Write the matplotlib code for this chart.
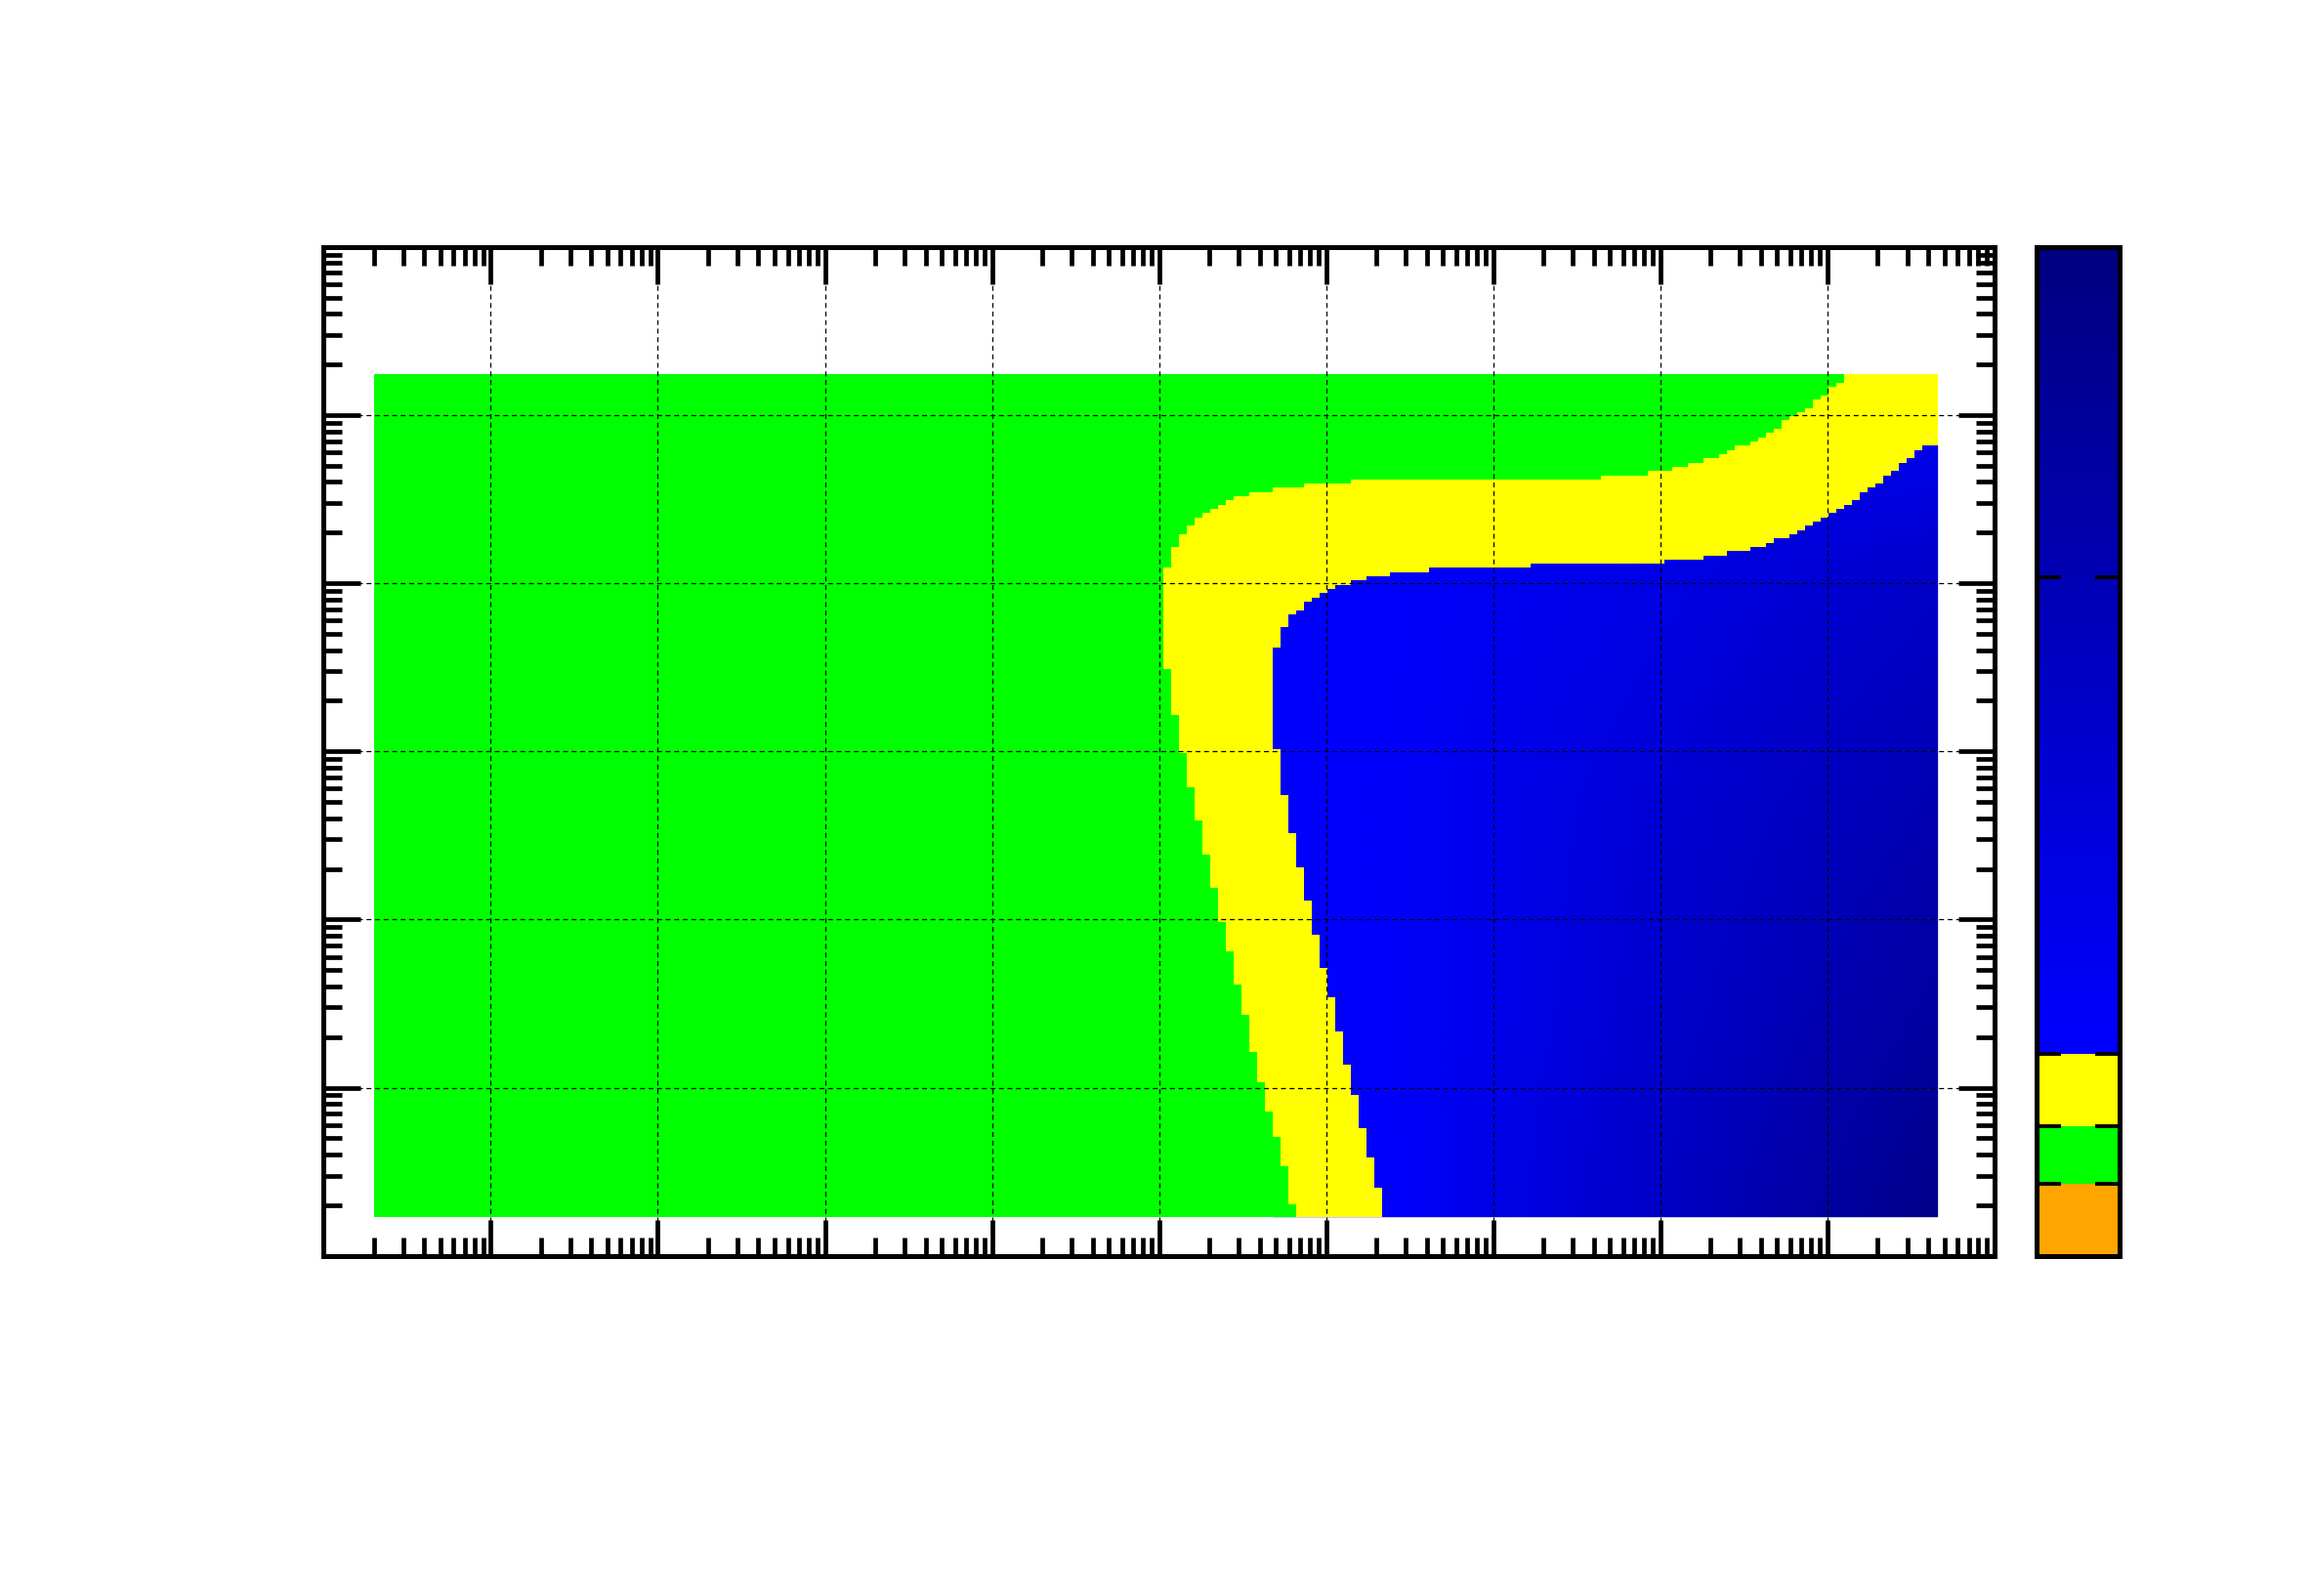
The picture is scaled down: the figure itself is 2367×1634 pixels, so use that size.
import numpy as np
import matplotlib
matplotlib.use("Agg")
import matplotlib.pyplot as plt
from matplotlib.colors import ListedColormap
from matplotlib.ticker import LogLocator, NullFormatter

# ---------------- data (2D histogram, 200 x 200 log bins) ----------------
nx, ny = 200, 200
x_min, x_max = 2.0, 4.56e9
y_min, y_max = 1.707, 1.75e5

# green / yellow boundary: for runs of rows (starting row index),
# number of green bins counted from the left
gy_row_start = [0, 3, 12, 19, 25, 32, 39, 48, 55, 63, 70, 78, 86, 94, 102, 110,
                119, 130, 154, 159, 162, 164, 166, 167, 168, 169, 170, 171, 172,
                173, 174, 175, 176, 177, 178, 179, 180, 181, 182, 183, 184, 185,
                186, 187, 189, 190, 191, 192, 194, 195, 197, 198]
gy_green_bins = [118, 117, 116, 115, 114, 113, 112, 111, 110, 109, 108, 107, 106,
                 105, 104, 103, 102, 101, 102, 103, 104, 105, 106, 107, 108, 109,
                 110, 112, 115, 119, 125, 157, 163, 166, 168, 170, 172, 173, 174,
                 176, 177, 178, 179, 180, 181, 182, 183, 184, 185, 186, 187, 188]

# yellow / blue boundary: first blue bin for runs of rows
yb_row_start = [0, 7, 14, 21, 29, 36, 44, 52, 59, 67, 75, 83, 91, 100, 111, 135,
                140, 143, 144, 146, 147, 148, 149, 150, 151, 152, 153, 154, 155,
                156, 157, 158, 159, 160, 161, 162, 163, 164, 165, 166, 167, 168,
                169, 170, 172, 173, 174, 176, 177, 179, 180, 182, 183]
yb_blue_from = [129, 128, 127, 126, 125, 124, 123, 122, 121, 120, 119, 118, 117,
                116, 115, 116, 117, 118, 119, 120, 121, 122, 123, 125, 127, 130,
                135, 148, 165, 170, 173, 176, 178, 179, 181, 182, 183, 184, 185,
                186, 187, 188, 189, 190, 191, 192, 193, 194, 195, 196, 197, 198, 200]

# colour-axis levels (fractions of the palette)
lvl_orange_top = 0.0716
lvl_green_top = 0.1288
lvl_yellow_top = 0.2004
z_green = 0.100
z_yellow = 0.165

# blue-region values read at a coarse set of bin edges
blue_k = [115, 130, 145, 160, 180, 200]
blue_j = [0, 50, 100, 150, 183]
blue_z = [
    [0.205, 0.205, 0.370, 0.515, 0.736, 0.937],
    [0.205, 0.230, 0.340, 0.471, 0.641, 0.799],
    [0.205, 0.240, 0.330, 0.433, 0.559, 0.685],
    [0.205, 0.210, 0.280, 0.345, 0.452, 0.547],
    [0.205, 0.205, 0.210, 0.250, 0.300, 0.330],
]

cbar_ticks = [0.0716, 0.1288, 0.2004, 0.6728]

# ---------------- palette ----------------
N = 1024
f = (np.arange(N) + 0.5) / N
cols = np.zeros((N, 4))
cols[:, 3] = 1.0
for i, v in enumerate(f):
    if v < lvl_orange_top:
        cols[i, :3] = (1.0, 165 / 255, 0.0)
    elif v < lvl_green_top:
        cols[i, :3] = (0.0, 1.0, 0.0)
    elif v < lvl_yellow_top:
        cols[i, :3] = (1.0, 1.0, 0.0)
    else:
        b = 255 - 127 * (v - lvl_yellow_top) / (1 - lvl_yellow_top)
        cols[i, :3] = (0.0, 0.0, b / 255)
cmap = ListedColormap(cols)
cmap.set_bad((0, 0, 0, 0))

# ---------------- histogram content ----------------
x_edges = np.logspace(np.log10(x_min), np.log10(x_max), nx + 1)
y_edges = np.logspace(np.log10(y_min), np.log10(y_max), ny + 1)
cat = np.full((ny, nx), np.nan)
for j in range(ny):
    i1 = np.searchsorted(gy_row_start, j, side="right") - 1
    i2 = np.searchsorted(yb_row_start, j, side="right") - 1
    g = gy_green_bins[i1]
    b = yb_blue_from[i2]
    cat[j, :g] = z_green
    cat[j, g:b] = z_yellow
cat = np.ma.masked_invalid(cat)

# ---------------- figure ----------------
W, H = 2367, 1634
fig = plt.figure(figsize=(W / 100, H / 100), dpi=100)
fig.patch.set_facecolor("white")

ax = fig.add_axes([331.3 / W, 1 - 1285.7 / H, (2042 - 331.3) / W, (1285.7 - 252.7) / H])
ax.set_xscale("log")
ax.set_yscale("log")

BX, BY = np.meshgrid(x_edges[blue_k], y_edges[blue_j])
ax.pcolormesh(BX, BY, np.array(blue_z), shading="gouraud", cmap=cmap,
              vmin=0, vmax=1, zorder=1, antialiased=False)
ax.pcolormesh(x_edges, y_edges, cat, cmap=cmap, vmin=0, vmax=1,
              antialiased=False, linewidth=0, zorder=1.1)

ax.set_xlim(1, 1e10)
ax.set_ylim(1, 1e6)

for axis in (ax.xaxis, ax.yaxis):
    axis.set_major_locator(LogLocator(base=10, numticks=30))
    axis.set_minor_locator(LogLocator(base=10, subs=np.arange(2, 10), numticks=300))
    axis.set_major_formatter(NullFormatter())
    axis.set_minor_formatter(NullFormatter())

ax.tick_params(which="both", direction="in", top=True, right=True,
               bottom=True, left=True, labelbottom=False, labelleft=False,
               color="black")
ax.tick_params(which="major", length=27, width=3.4)
ax.tick_params(which="minor", length=13.5, width=3.4)

ax.set_axisbelow(False)
ax.grid(True, which="major", color="black", linestyle=(0, (4, 3)), linewidth=0.9)
ax.grid(False, which="minor")

for sp in ax.spines.values():
    sp.set_linewidth(3.6)
    sp.set_zorder(5)

# ---------------- colour bar ----------------
cax = fig.add_axes([2084.5 / W, 1 - 1285.7 / H, (2170 - 2084.5) / W, (1285.7 - 252.7) / H])
cy = np.linspace(0, 1, N + 1)
cax.pcolormesh([0, 1], cy, f.reshape(-1, 1), cmap=cmap, vmin=0, vmax=1,
               antialiased=False, linewidth=0)
cax.set_xlim(0, 1)
cax.set_ylim(0, 1)
cax.set_xticks([])
cax.set_yticks(cbar_ticks)
cax.yaxis.set_major_formatter(NullFormatter())
cax.tick_params(axis="y", which="both", direction="in", left=True, right=True,
                labelleft=False, labelright=False, length=18, width=2.8, color="black")
for sp in cax.spines.values():
    sp.set_linewidth(3.6)
    sp.set_zorder(5)

fig.savefig("out.png", dpi=100, facecolor="white")
